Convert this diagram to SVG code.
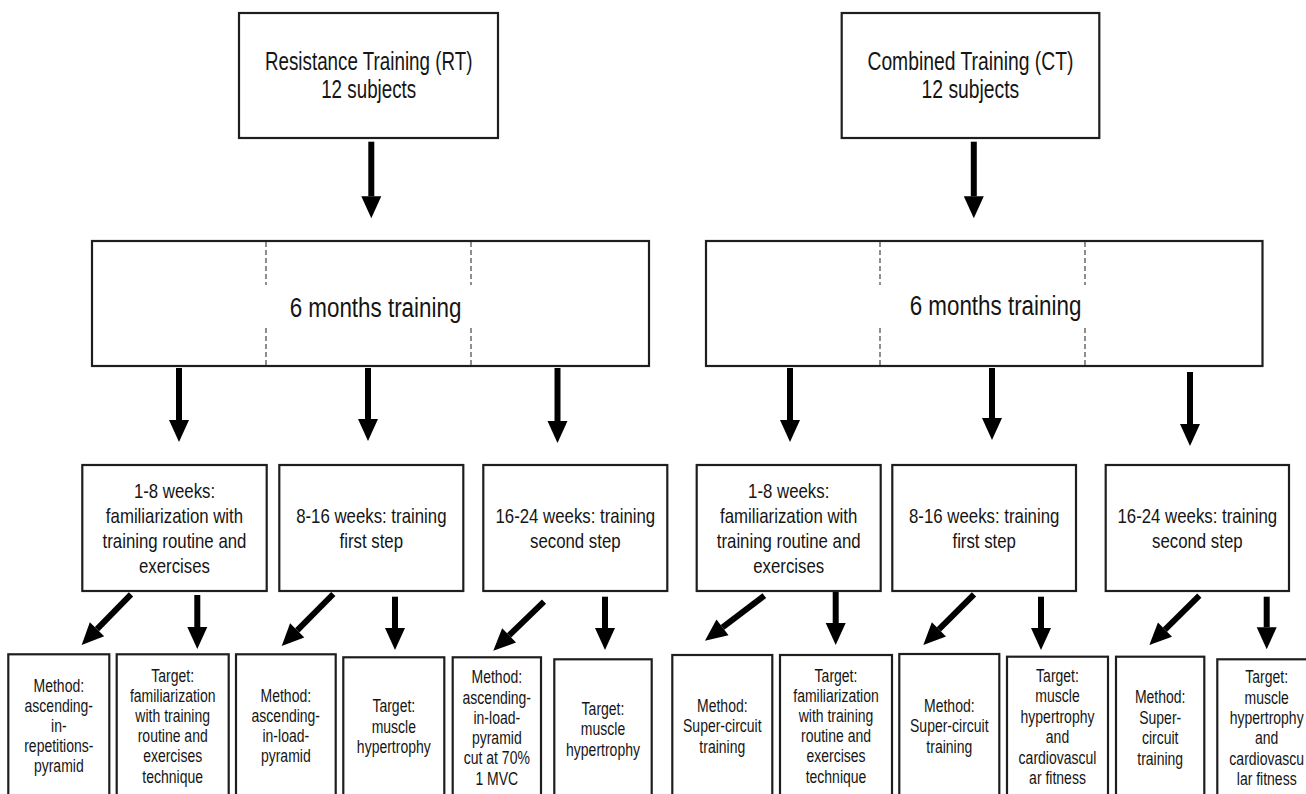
<svg xmlns="http://www.w3.org/2000/svg" width="1306" height="794" viewBox="0 0 1306 794">
<style>
.box{fill:#fff;stroke:#1e1e1e;stroke-width:2.2}
.dash{stroke:#333;stroke-width:1.1;stroke-dasharray:5 3;fill:none}
text{font-family:"Liberation Sans",Arial,Helvetica,sans-serif;fill:#151515;text-anchor:middle}
.t1{font-size:25px}
.t2{font-size:28px}
.t3{font-size:20.5px}
.t4{font-size:18.5px}
.arr{stroke:#000;stroke-width:6;fill:none;marker-end:url(#ah)}
</style>
<defs>
<marker id="ah" markerUnits="userSpaceOnUse" markerWidth="22" markerHeight="20" refX="0" refY="10" orient="auto" overflow="visible">
<path d="M0,0 L22,10 L0,20 z" fill="#000"/>
</marker>
</defs>
<rect width="1306" height="794" fill="#fff"/>

<g id="connectors">
<line class="arr" x1="371.3" y1="141.7" x2="371.3" y2="196.3"/>
<line class="arr" x1="973.8" y1="141.7" x2="973.8" y2="196.3"/>
<line class="arr" x1="179" y1="368" x2="179" y2="420"/>
<line class="arr" x1="368" y1="368" x2="368" y2="419"/>
<line class="arr" x1="557.5" y1="368" x2="557.5" y2="421"/>
<line class="arr" x1="790" y1="368" x2="790" y2="420"/>
<line class="arr" x1="992" y1="368" x2="992" y2="418"/>
<line class="arr" x1="1190" y1="372" x2="1190" y2="424"/>
<line class="arr" x1="131" y1="594.3" x2="97" y2="629.2"/>
<line class="arr" x1="197.3" y1="595" x2="197.3" y2="627"/>
<line class="arr" x1="333.3" y1="594" x2="297.2" y2="630.4"/>
<line class="arr" x1="395" y1="596.7" x2="395" y2="628"/>
<line class="arr" x1="544" y1="601.7" x2="509.1" y2="635.4"/>
<line class="arr" x1="605" y1="596.7" x2="605" y2="628"/>
<line class="arr" x1="764.3" y1="595.7" x2="722.5" y2="627.4"/>
<line class="arr" x1="835.7" y1="591.7" x2="835.7" y2="623"/>
<line class="arr" x1="974" y1="594.3" x2="938.9" y2="629.4"/>
<line class="arr" x1="1041" y1="596.7" x2="1041" y2="628"/>
<line class="arr" x1="1199.3" y1="595.7" x2="1165" y2="629.6"/>
<line class="arr" x1="1266.7" y1="596.7" x2="1266.7" y2="627.3"/>
</g>

<g id="rt-top">
<rect class="box" x="239" y="13" width="259" height="125"/>
<g transform="translate(368.7,0) scale(0.752,1)"><text class="t1"><tspan x="0" y="70.5">Resistance Training (RT)</tspan><tspan x="0" y="98.5">12 subjects</tspan></text></g>
</g>
<g id="ct-top">
<rect class="box" x="841.7" y="13" width="257.6" height="125"/>
<g transform="translate(970.4,0) scale(0.772,1)"><text class="t1"><tspan x="0" y="70.5">Combined Training (CT)</tspan><tspan x="0" y="98.5">12 subjects</tspan></text></g>
</g>

<g id="rt-6months">
<rect class="box" x="92" y="241" width="557" height="125"/>
<path class="dash" d="M266,242 V285 M266,328 V365 M471,242 V285 M471,328 V365"/>
<g transform="translate(375.5,0) scale(0.8,1)"><text class="t2" x="0" y="317">6 months training</text></g>
</g>
<g id="ct-6months">
<rect class="box" x="706" y="241" width="556.5" height="125"/>
<path class="dash" d="M880,242 V285 M880,328 V365 M1085,242 V285 M1085,328 V365"/>
<g transform="translate(995.5,0) scale(0.8,1)"><text class="t2" x="0" y="315">6 months training</text></g>
</g>

<g id="rt-w1">
<rect class="box" x="82.3" y="465" width="184.4" height="126"/>
<g transform="translate(174.5,0) scale(0.82,1)"><text class="t3"><tspan x="0" y="498">1-8 weeks:</tspan><tspan x="0" y="523">familiarization with</tspan><tspan x="0" y="548">training routine and</tspan><tspan x="0" y="573">exercises</tspan></text></g>
</g>
<g id="rt-w2">
<rect class="box" x="279.3" y="465" width="184" height="126"/>
<g transform="translate(371.3,0) scale(0.82,1)"><text class="t3"><tspan x="0" y="523">8-16 weeks: training</tspan><tspan x="0" y="548">first step</tspan></text></g>
</g>
<g id="rt-w3">
<rect class="box" x="483.3" y="465" width="184" height="126"/>
<g transform="translate(575.3,0) scale(0.82,1)"><text class="t3"><tspan x="0" y="523">16-24 weeks: training</tspan><tspan x="0" y="548">second step</tspan></text></g>
</g>
<g id="ct-w1">
<rect class="box" x="696.7" y="465" width="184" height="126"/>
<g transform="translate(788.7,0) scale(0.82,1)"><text class="t3"><tspan x="0" y="498">1-8 weeks:</tspan><tspan x="0" y="523">familiarization with</tspan><tspan x="0" y="548">training routine and</tspan><tspan x="0" y="573">exercises</tspan></text></g>
</g>
<g id="ct-w2">
<rect class="box" x="892.3" y="465" width="183.7" height="126"/>
<g transform="translate(984.2,0) scale(0.82,1)"><text class="t3"><tspan x="0" y="523">8-16 weeks: training</tspan><tspan x="0" y="548">first step</tspan></text></g>
</g>
<g id="ct-w3">
<rect class="box" x="1105.7" y="465" width="183.3" height="126"/>
<g transform="translate(1197.3,0) scale(0.82,1)"><text class="t3"><tspan x="0" y="523">16-24 weeks: training</tspan><tspan x="0" y="548">second step</tspan></text></g>
</g>

<g id="b1">
<rect class="box" x="8.3" y="654.3" width="101" height="160"/>
<g transform="translate(58.8,0) scale(0.757,1)"><text class="t4"><tspan x="0" y="691.7">Method:</tspan><tspan x="0" y="711.7">ascending-</tspan><tspan x="0" y="731.7">in-</tspan><tspan x="0" y="751.7">repetitions-</tspan><tspan x="0" y="771.7">pyramid</tspan></text></g>
</g>
<g id="b2">
<rect class="box" x="116.7" y="654.3" width="112" height="160"/>
<g transform="translate(172.7,0) scale(0.757,1)"><text class="t4"><tspan x="0" y="681.7">Target:</tspan><tspan x="0" y="701.9">familiarization</tspan><tspan x="0" y="722.1">with training</tspan><tspan x="0" y="742.3">routine and</tspan><tspan x="0" y="762.5">exercises</tspan><tspan x="0" y="782.7">technique</tspan></text></g>
</g>
<g id="b3">
<rect class="box" x="236" y="654.3" width="99.7" height="160"/>
<g transform="translate(285.8,0) scale(0.757,1)"><text class="t4"><tspan x="0" y="701.7">Method:</tspan><tspan x="0" y="721.7">ascending-</tspan><tspan x="0" y="741.7">in-load-</tspan><tspan x="0" y="761.7">pyramid</tspan></text></g>
</g>
<g id="b4">
<rect class="box" x="343.3" y="657.3" width="101" height="160"/>
<g transform="translate(393.8,0) scale(0.757,1)"><text class="t4"><tspan x="0" y="712">Target:</tspan><tspan x="0" y="732.7">muscle</tspan><tspan x="0" y="753.3">hypertrophy</tspan></text></g>
</g>
<g id="b5">
<rect class="box" x="452.7" y="657.3" width="88.3" height="160"/>
<g transform="translate(496.8,0) scale(0.757,1)"><text class="t4"><tspan x="0" y="683.3">Method:</tspan><tspan x="0" y="703.6">ascending-</tspan><tspan x="0" y="723.9">in-load-</tspan><tspan x="0" y="744.2">pyramid</tspan><tspan x="0" y="764.5">cut at 70%</tspan><tspan x="0" y="784.8">1 MVC</tspan></text></g>
</g>
<g id="b6">
<rect class="box" x="554.3" y="659.3" width="97.4" height="160"/>
<g transform="translate(603,0) scale(0.757,1)"><text class="t4"><tspan x="0" y="715">Target:</tspan><tspan x="0" y="735.5">muscle</tspan><tspan x="0" y="756">hypertrophy</tspan></text></g>
</g>
<g id="b7">
<rect class="box" x="672.3" y="655" width="100" height="160"/>
<g transform="translate(722.3,0) scale(0.757,1)"><text class="t4"><tspan x="0" y="711.7">Method:</tspan><tspan x="0" y="732.2">Super-circuit</tspan><tspan x="0" y="752.7">training</tspan></text></g>
</g>
<g id="b8">
<rect class="box" x="780" y="655" width="112" height="160"/>
<g transform="translate(836,0) scale(0.757,1)"><text class="t4"><tspan x="0" y="681.7">Target:</tspan><tspan x="0" y="701.9">familiarization</tspan><tspan x="0" y="722.1">with training</tspan><tspan x="0" y="742.3">routine and</tspan><tspan x="0" y="762.5">exercises</tspan><tspan x="0" y="782.7">technique</tspan></text></g>
</g>
<g id="b9">
<rect class="box" x="899.3" y="654" width="100" height="160"/>
<g transform="translate(949.3,0) scale(0.757,1)"><text class="t4"><tspan x="0" y="711.7">Method:</tspan><tspan x="0" y="732.2">Super-circuit</tspan><tspan x="0" y="752.7">training</tspan></text></g>
</g>
<g id="b10">
<rect class="box" x="1007" y="656.7" width="101" height="160"/>
<g transform="translate(1057.5,0) scale(0.757,1)"><text class="t4"><tspan x="0" y="681.7">Target:</tspan><tspan x="0" y="702.2">muscle</tspan><tspan x="0" y="722.7">hypertrophy</tspan><tspan x="0" y="743.2">and</tspan><tspan x="0" y="763.7">cardiovascul</tspan><tspan x="0" y="784.2">ar fitness</tspan></text></g>
</g>
<g id="b11">
<rect class="box" x="1116" y="656.7" width="88.3" height="160"/>
<g transform="translate(1160.2,0) scale(0.757,1)"><text class="t4"><tspan x="0" y="703.3">Method:</tspan><tspan x="0" y="723.8">Super-</tspan><tspan x="0" y="744.3">circuit</tspan><tspan x="0" y="764.8">training</tspan></text></g>
</g>
<g id="b12">
<rect class="box" x="1217.3" y="659.3" width="99" height="160"/>
<g transform="translate(1266.7,0) scale(0.757,1)"><text class="t4"><tspan x="0" y="683.3">Target:</tspan><tspan x="0" y="703.7">muscle</tspan><tspan x="0" y="724.1">hypertrophy</tspan><tspan x="0" y="744.5">and</tspan><tspan x="0" y="764.9">cardiovascu</tspan><tspan x="0" y="785.3">lar fitness</tspan></text></g>
</g>
</svg>
